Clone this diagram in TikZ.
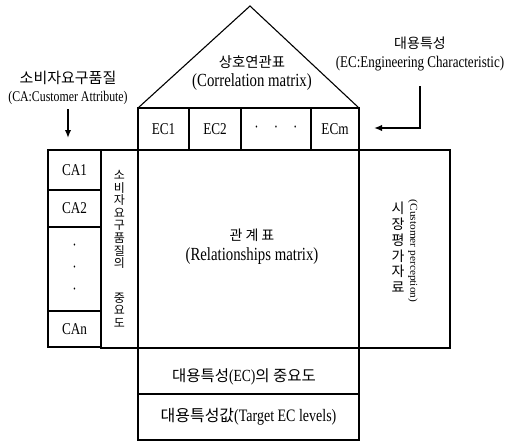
\documentclass[tikz,border=0pt]{standalone}
\usepackage{fontspec}
\usepackage{graphicx}
\setmainfont{Liberation Serif}[FakeStretch=0.8]
\newfontfamily\kr{Noto Sans CJK KR}
\usetikzlibrary{arrows.meta}
\begin{document}
\begin{tikzpicture}[x=1pt,y=-1pt,line width=1.1pt,
  cell/.style={draw,line width=1.1pt,inner sep=0pt,anchor=center},
  lbl/.style={inner sep=0pt,anchor=center,align=center},
  arr/.style={-{Latex[length=8pt,width=6.5pt]},line width=1.6pt},
]
\useasboundingbox (0,0) rectangle (506,444);
% roof
\coordinate (roofL) at (138,108);
\coordinate (apex) at (250,6);
\coordinate (roofR) at (359,108);
\draw[line width=1.1pt,line join=miter] (roofL) -- (apex) -- (roofR);
\node[lbl,font=\kr\fontsize{14.4}{16}\selectfont] (corrk) at (252,62) {상호연관표};
\node[lbl,font=\fontsize{18.5}{20}\selectfont] (corre) at (252,82) {(Correlation matrix)};
% EC row
\node[cell,minimum width=51pt,minimum height=42pt,font=\fontsize{16.5}{18}\selectfont] (ec1) at (163.5,129) {EC1};
\node[cell,minimum width=52pt,minimum height=42pt,font=\fontsize{16.5}{18}\selectfont] (ec2) at (215,129) {EC2};
\node[cell,minimum width=70pt,minimum height=42pt,font=\fontsize{16.5}{18}\selectfont] (ecd) at (276,129) {·\hspace{15pt}·\hspace{15pt}·};
\node[cell,minimum width=48pt,minimum height=42pt,font=\fontsize{16.5}{18}\selectfont] (ecm) at (335,129) {ECm};
% relationship matrix
\node[cell,minimum width=221pt,minimum height=198pt] (rel) at (248.5,249) {};
\node[lbl,font=\kr\fontsize{14}{16}\selectfont] (relk) at (252,235) {관\kern3pt 계\kern3pt 표};
\node[lbl,font=\fontsize{18.5}{20}\selectfont] (rele) at (252,256) {(Relationships matrix)};
% CA column
\node[cell,minimum width=53pt,minimum height=40pt,font=\fontsize{16.5}{18}\selectfont] (ca1) at (74.5,170) {CA1};
\node[cell,minimum width=53pt,minimum height=37pt,font=\fontsize{16.5}{18}\selectfont] (ca2) at (74.5,208.5) {CA2};
\node[cell,minimum width=53pt,minimum height=84pt,font=\fontsize{16.5}{22}\selectfont,align=center] (cad) at (74.5,269) {·\\·\\·};
\node[cell,minimum width=53pt,minimum height=36pt,font=\fontsize{16.5}{18}\selectfont] (can) at (74.5,329) {CAn};
\node[cell,minimum width=37pt,minimum height=198pt,align=center,font=\kr\fontsize{12}{12.6}\selectfont] (caimp) at (119.5,249) {소\\비\\자\\요\\구\\품\\질\\의\\[22pt]중\\요\\도};
% customer perception
\node[cell,minimum width=91pt,minimum height=198pt] (cp) at (404.5,249) {};
\node[lbl,font=\kr\fontsize{14}{15.8}\selectfont] (cpk) at (398,247.5) {시\\장\\평\\가\\자\\료};
\node[lbl,rotate=-90,font=\fontsize{10.5}{12}\selectfont] (cpe) at (413,251) {\scalebox{1.35}[1]{(Customer perception)}};
% bottom rows
\node[cell,minimum width=221pt,minimum height=46pt] (ecimp) at (248.5,371) {};
\node[lbl] (ecimpt) at (244,377) {{\kr\fontsize{15.5}{17}\selectfont 대용특성}{\fontsize{17}{18}\selectfont(EC)}{\kr\fontsize{15.5}{17}\selectfont 의 중요도}};
\node[cell,minimum width=221pt,minimum height=46pt] (target) at (248.5,417) {};
\node[lbl] (targett) at (248.5,417) {{\kr\fontsize{16}{18}\selectfont 대용특성값}{\fontsize{17.5}{19}\selectfont(Target EC levels)}};
% CA label
\node[lbl,font=\kr\fontsize{15}{17}\selectfont] (cak) at (68,78) {소비자요구품질};
\node[lbl,font=\fontsize{14.8}{16}\selectfont] (cae) at (68,98) {(CA:Customer Attribute)};
\coordinate (caA) at (68,109);
\coordinate (caB) at (68,138);
\draw[arr] (caA) -- (caB);
% EC label
\node[lbl,font=\kr\fontsize{14}{16}\selectfont] (eck) at (420,43) {대용특성};
\node[lbl,font=\fontsize{16.3}{18}\selectfont] (ece) at (420,64) {(EC:Engineering Characteristic)};
\coordinate (ecA) at (420,86);
\coordinate (ecC) at (374,128);
\draw[arr] (ecA) |- (ecC);
\end{tikzpicture}
\end{document}
